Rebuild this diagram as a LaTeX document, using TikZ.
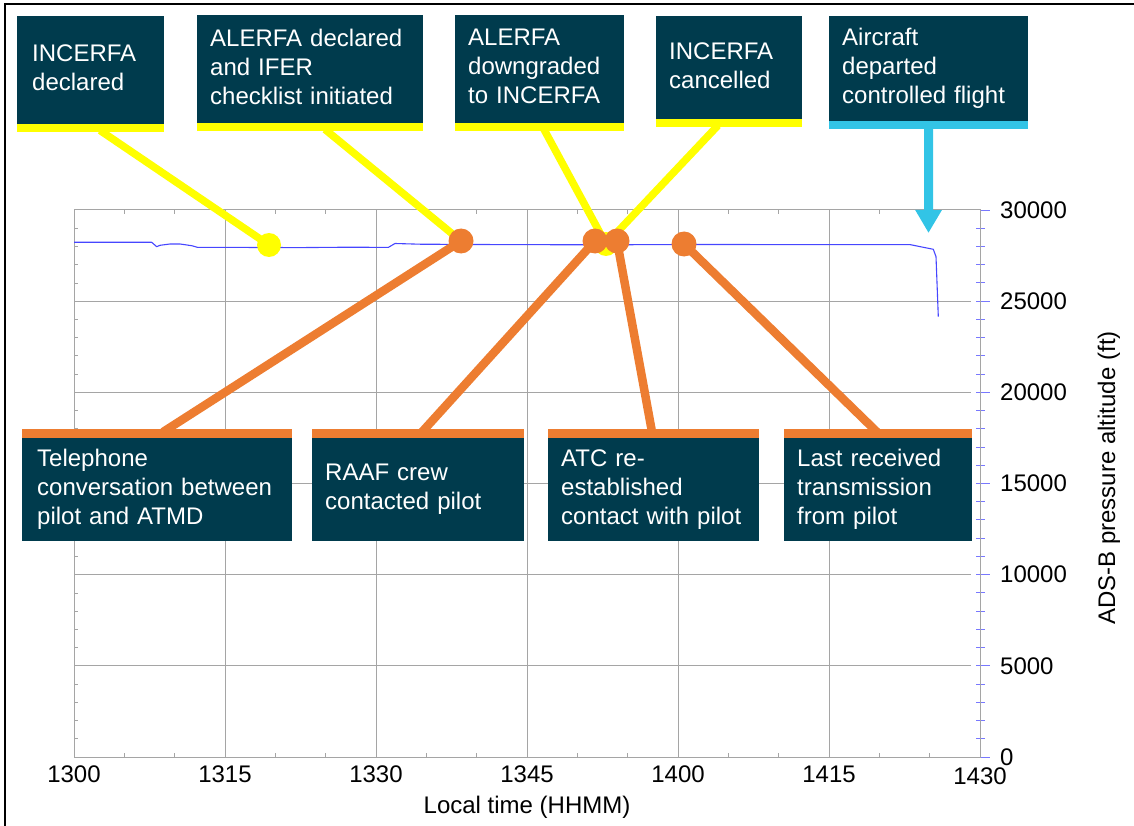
\documentclass[tikz,border=0pt]{standalone}
\usepackage{fontspec}
\setmainfont{Liberation Sans}
\usetikzlibrary{arrows.meta}
\definecolor{cardfill}{RGB}{0,59,77}
\definecolor{markyel}{RGB}{255,255,0}
\definecolor{markorg}{RGB}{237,125,49}
\definecolor{markcyan}{RGB}{50,196,230}
\definecolor{altline}{RGB}{70,70,255}
\definecolor{gridgray}{RGB}{165,165,165}
\definecolor{tickblue}{RGB}{120,120,255}
\pgfdeclarelayer{back}
\pgfdeclarelayer{links}
\pgfsetlayers{back,links,main}
\tikzset{
  lbl/.style={font=\fontsize{24}{29}\selectfont, inner sep=0pt},
  card/.style={fill=cardfill, text=white, font=\fontsize{24}{29}\selectfont,
    anchor=north west, align=left, inner xsep=13pt, inner ysep=0pt},
  gridline/.style={gridgray, line width=1pt},
  minortick/.style={gridgray, line width=0.8pt},
  righttick/.style={tickblue, line width=1pt},
  altitude/.style={altline, line width=1.1pt, line join=round},
  yellowlink/.style={markyel, line width=7.5pt},
  orangelink/.style={markorg, line width=8.5pt},
  yellowdot/.style={circle, fill=markyel, minimum size=24pt, inner sep=0pt},
  orangedot/.style={circle, fill=markorg, minimum size=25pt, inner sep=0pt},
}
% time axis: 1300 at x=74, 10.0667 px per minute; altitude axis: 0 ft at y=757, 18.2333 px per 1000 ft
\newcommand{\lastline}{\vphantom{g}}
\begin{document}
\begin{tikzpicture}[x=1pt,y=-1pt]
\useasboundingbox (0,0) rectangle (1134,826);

\begin{pgfonlayer}{back}
% outer frame of the figure
\draw[line width=2pt] (5,840) -- (5,4) -- (1150,4);

% grid
\foreach \t in {15,30,45,60,75}
  \draw[gridline] ({74+\t*10.0667},210) -- ({74+\t*10.0667},757);
\foreach \a in {5,10,15,20,25}
  \draw[gridline] (74,{757-\a*18.2333}) -- (971,{757-\a*18.2333});

% minor ticks: every 5 min on the time axis, every 1000 ft on the altitude axis
\foreach \t in {5,10,20,25,35,40,50,55,65,70,80,85} {
  \draw[minortick] ({74+\t*10.0667},757) -- ++(0,-4);
  \draw[minortick] ({74+\t*10.0667},210) -- ++(0,4);
}
\foreach \a in {1,...,29} {
  \draw[minortick] (74,{757-\a*18.2333}) -- ++(4,0);
  \draw[righttick] (976,{757-\a*18.2333}) -- (985,{757-\a*18.2333});
}
\foreach \a in {0,5,...,30}
  \draw[righttick] (980,{757-\a*18.2333}) -- (990,{757-\a*18.2333});

% plot frame
\draw[gridline] (74,210) rectangle (980,757);

% pressure altitude trace
\draw[altitude] (74,242.3) -- (151.7,242.3) -- (156.7,246.7) -- (160,245.3)
  -- (170,244) -- (180,244) -- (191.7,245.7) -- (197.3,247.3)
  -- (300,247.6) -- (350,247.2) -- (388.3,247.4) -- (395,243.5)
  -- (420,244.2) -- (500,244.6) -- (600,244.8) -- (700,244.5)
  -- (800,244.6) -- (910,244.6) -- (933.3,249.3) -- (936,256.7) -- (938.3,316.7);
\end{pgfonlayer}

% axis labels
\foreach \t/\l in {0/1300,15/1315,30/1330,45/1345,60/1400,75/1415}
  \node[lbl, anchor=base] (tx\l) at ({74+\t*10.0667},782) {\l};
\node[lbl, anchor=base] (tx1430) at (980,784) {1430};
\foreach \a in {0,5,10,15,20,25,30}
  \node[lbl, anchor=west] (ay\a) at (1000,{757-\a*18.2333}) {\ifnum\a=0 0\else\a000\fi};
\node[lbl, anchor=base] (xlab) at (527,813) {Local time (HHMM)};
\node[lbl, rotate=90] (ylab) at (1109,478) {ADS-B pressure altitude (ft)};

% event cards along the top
\node[card, inner xsep=15pt, minimum width=147pt, minimum height=108pt, text width=117pt] (c1) at (17,16)
  {INCERFA\\declared\lastline};
\node[card, minimum width=226pt, minimum height=108pt, text width=200pt] (c2) at (197,15)
  {ALERFA declared\\and IFER\\checklist initiated\lastline};
\node[card, minimum width=169pt, minimum height=108pt, text width=143pt] (c3) at (455,15)
  {ALERFA\\downgraded\\to INCERFA\lastline};
\node[card, minimum width=146pt, minimum height=103pt, text width=120pt] (c4) at (656,16)
  {INCERFA\\cancelled\lastline};
\node[card, minimum width=199pt, minimum height=105pt, text width=173pt] (c5) at (829,16)
  {Aircraft\\departed\\controlled flight\lastline};
\fill[markyel] (c1.south west) rectangle ([yshift=-8pt]c1.south east);
\fill[markyel] (c2.south west) rectangle ([yshift=-8pt]c2.south east);
\fill[markyel] (c3.south west) rectangle ([yshift=-8pt]c3.south east);
\fill[markyel] (c4.south west) rectangle ([yshift=-8pt]c4.south east);
\fill[markcyan] (c5.south west) rectangle ([yshift=-8pt]c5.south east);

% event cards along the bottom
\node[card, inner xsep=15pt, minimum width=270pt, minimum height=103pt, text width=240pt] (c6) at (22,438)
  {Telephone\\conversation between\\pilot and ATMD\lastline};
\node[card, minimum width=212pt, minimum height=103pt, text width=186pt] (c7) at (312,438)
  {RAAF crew\\contacted pilot\lastline};
\node[card, minimum width=211pt, minimum height=103pt, text width=185pt] (c8) at (548,438)
  {ATC re-\\established\\contact with pilot\lastline};
\node[card, minimum width=188pt, minimum height=103pt, text width=162pt] (c9) at (784,438)
  {Last received\\transmission\\from pilot\lastline};
\foreach \c in {c6,c7,c8,c9}
  \fill[markorg] ([yshift=9pt]\c.north west) rectangle (\c.north east);

% event markers on the trace
\node[yellowdot] (y1) at (269,245) {};
\node[yellowdot] (y2) at (606,244) {};
\node[orangedot] (o1) at (461,241) {};
\node[orangedot] (o2) at (595,241) {};
\node[orangedot] (o3) at (617,241) {};
\node[orangedot] (o4) at (684,244) {};

\begin{pgfonlayer}{links}
\draw[yellowlink] ([shift={(83,6)}]c1.south west) -- (y1.center);
\draw[yellowlink] ([shift={(128,6)}]c2.south west) -- (o1.center);
\draw[yellowlink] ([shift={(89,6)}]c3.south west) -- (y2.center);
\draw[yellowlink] ([shift={(62,6)}]c4.south west) -- (y2.center);
\draw[orangelink] (o1.center) -- ([shift={(141,-6)}]c6.north west);
\draw[orangelink] (o2.center) -- ([shift={(110,-6)}]c7.north west);
\draw[orangelink] (o3.center) -- ([shift={(104,-6)}]c8.north west);
\draw[orangelink] (o4.center) -- ([shift={(93,-6)}]c9.north west);
\end{pgfonlayer}

% departure from controlled flight
\coordinate (tip) at (928.5,233);
\draw[markcyan, line width=9pt, -{Triangle[length=23pt,width=25pt]}]
  ([yshift=-6pt]c5.south) -- (tip);
\end{tikzpicture}
\end{document}
